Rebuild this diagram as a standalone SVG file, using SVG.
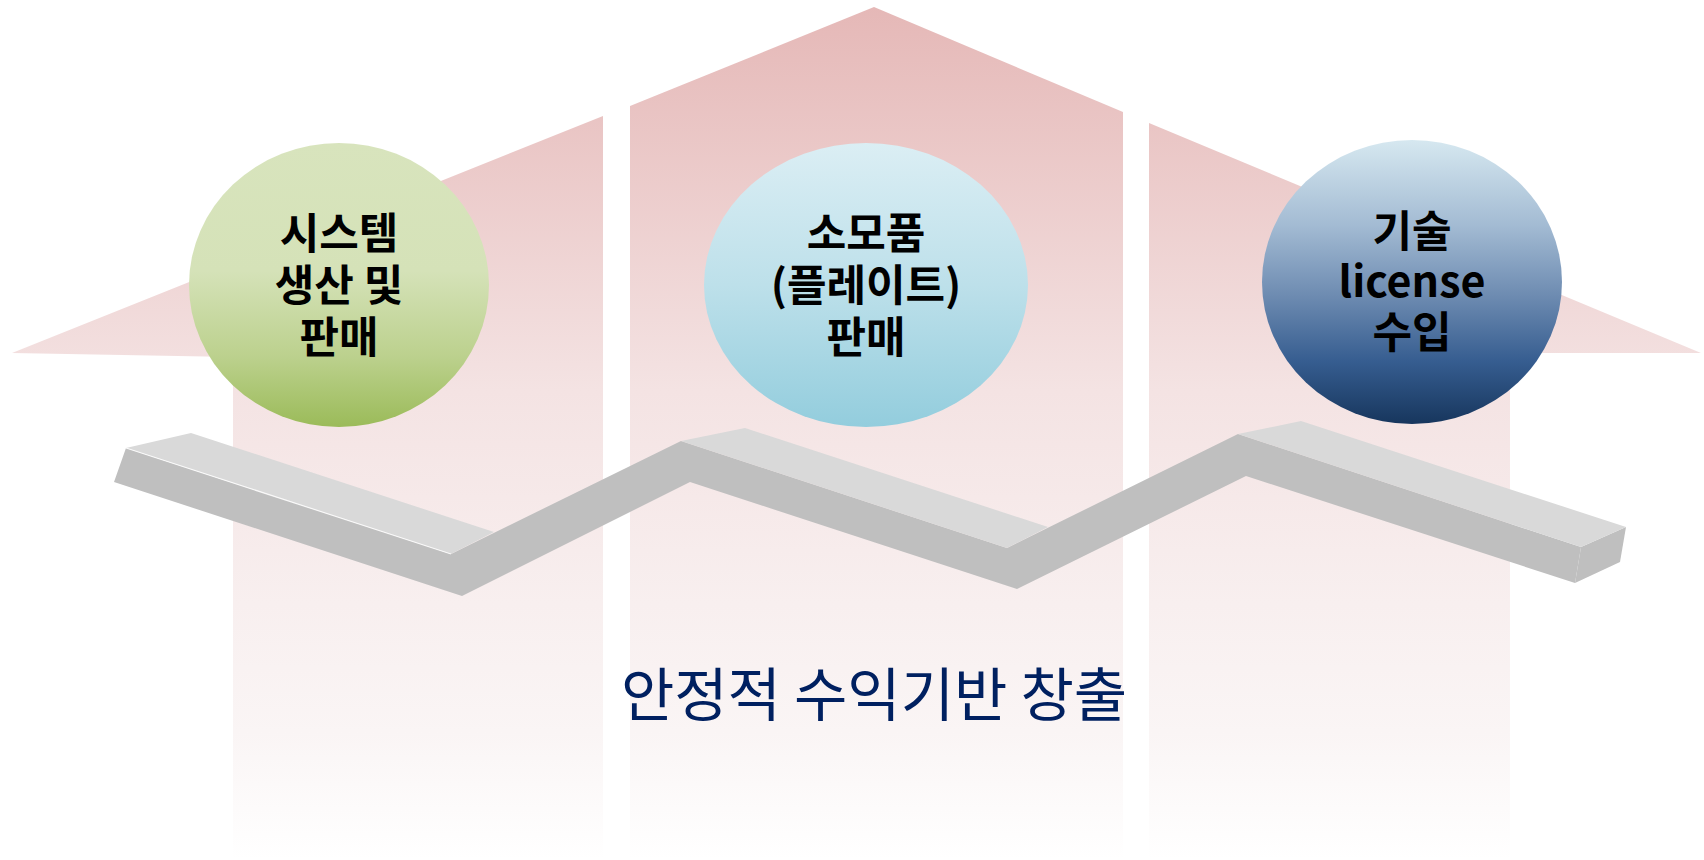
<svg xmlns="http://www.w3.org/2000/svg" width="1704" height="860" viewBox="0 0 1704 860">
  <defs>
    <linearGradient id="pink" gradientUnits="userSpaceOnUse" x1="0" y1="7" x2="0" y2="860">
      <stop offset="0" stop-color="#e5b8b7"/>
      <stop offset="0.45" stop-color="#f4e3e3"/>
      <stop offset="0.7" stop-color="#f8efef"/>
      <stop offset="0.85" stop-color="#faf5f5"/>
      <stop offset="1" stop-color="#ffffff"/>
    </linearGradient>
    <linearGradient id="green" x1="0" y1="0" x2="0" y2="1">
      <stop offset="0" stop-color="#d8e4bd"/>
      <stop offset="0.45" stop-color="#d5e2b8"/>
      <stop offset="0.75" stop-color="#bcd18e"/>
      <stop offset="1" stop-color="#9bbb59"/>
    </linearGradient>
    <linearGradient id="lblue" x1="0" y1="0" x2="0" y2="1">
      <stop offset="0" stop-color="#dbeef4"/>
      <stop offset="0.5" stop-color="#bde0ea"/>
      <stop offset="1" stop-color="#93cddd"/>
    </linearGradient>
    <linearGradient id="dblue" x1="0" y1="0" x2="0" y2="1">
      <stop offset="0" stop-color="#d6e8f0"/>
      <stop offset="0.3" stop-color="#a3bbd3"/>
      <stop offset="0.55" stop-color="#6d8bb1"/>
      <stop offset="0.78" stop-color="#365d90"/>
      <stop offset="1" stop-color="#17365d"/>
    </linearGradient>
    <style>
      .house { fill: url(#pink); }
      .top { fill: #d9d9d9; }
      .front { fill: #bfbfbf; }
      .label { font-family: "Noto Sans CJK KR", "Noto Sans", sans-serif; font-weight: bold; font-size: 43px; fill: #000000; text-anchor: middle; }
      .caption { font-family: "Noto Sans CJK KR", "Noto Sans", sans-serif; font-size: 58px; fill: #002060; text-anchor: middle; }
    </style>
  </defs>

  <g id="background">
    <polygon class="house" points="12,353 603,116 603,858 233,858 233,357"/>
    <polygon class="house" points="630,106 874,7 1123,112 1123,858 630,858"/>
    <polygon class="house" points="1149,123 1701,353 1510,353 1510,858 1149,858"/>
  </g>

  <g id="timeline">
    <polygon class="front" points="126,448 451,554 681,441 1007,548 1238,434 1581,547 1575,583 1246,476 1017,589 690,482 462,596 114,482"/>
    <polygon class="front" points="1581,547 1626,527 1620,562 1575,583"/>
    <polygon class="top" points="126,448 191,433 494,532 451,554"/>
    <polygon class="top" points="681,441 745,428 1048,527 1007,548"/>
    <polygon class="top" points="1238,434 1301,421 1626,527 1581,547"/>
    <line x1="126" y1="448" x2="451" y2="554" stroke="#ffffff" stroke-width="1.2" opacity="0.85"/>
  </g>

  <g id="node-system">
    <ellipse cx="339" cy="285" rx="150" ry="142" fill="url(#green)"/>
    <text class="label" x="339" y="249">시스템<tspan x="339" dy="52">생산 및</tspan><tspan x="339" dy="52">판매</tspan></text>
  </g>

  <g id="node-consumables">
    <ellipse cx="866" cy="285" rx="162" ry="142" fill="url(#lblue)"/>
    <text class="label" x="866" y="249">소모품<tspan x="866" dy="52">(플레이트)</tspan><tspan x="866" dy="52">판매</tspan></text>
  </g>

  <g id="node-license">
    <ellipse cx="1412" cy="282" rx="150" ry="142" fill="url(#dblue)"/>
    <text class="label" x="1412" y="247">기술<tspan x="1412" dy="50">license</tspan><tspan x="1412" dy="51">수입</tspan></text>
  </g>

  <g id="caption">
    <text class="caption" x="874" y="716">안정적 수익기반 창출</text>
  </g>
</svg>
